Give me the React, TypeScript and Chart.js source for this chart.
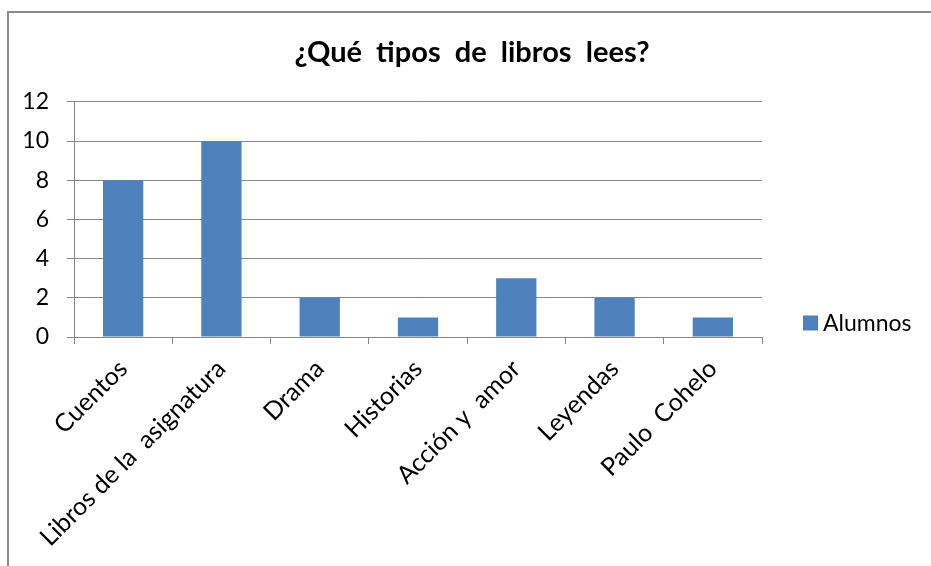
import React, { useEffect, useRef } from "react";
import { Chart, registerables } from "chart.js";

Chart.register(...registerables);

const categories = [
  "Cuentos",
  "Libros de la  asignatura",
  "Drama",
  "Historias",
  "Acción y  amor",
  "Leyendas",
  "Paulo  Cohelo",
];
const alumnos = [8, 10, 2, 1, 3, 2, 1];
const seriesName = "Alumnos";
const titleText = "¿Qué  tipos  de  libros  lees?";

const FONT = "Lato, 'Open Sans', sans-serif";
const BAR = "#4F81BD";
const GRID = "#868686";

const legendPlugin = {
  id: "customLegend",
  afterDraw(chart: any) {
    const { ctx, chartArea } = chart;
    const bx = chartArea.right + 41;
    const cy = chartArea.bottom - 14;
    ctx.save();
    ctx.fillStyle = BAR;
    ctx.fillRect(bx, cy - 7.5, 15, 15);
    ctx.fillStyle = "#000";
    ctx.font = `23px ${FONT}`;
    ctx.textBaseline = "middle";
    ctx.textAlign = "left";
    ctx.fillText(seriesName, bx + 20, cy + 1);
    ctx.restore();
  },
};

export default function App() {
  const ref = useRef<HTMLCanvasElement>(null);
  useEffect(() => {
    document.body.style.overflow = "hidden";
    const chart = new Chart(ref.current!, {
      type: "bar",
      data: {
        labels: categories,
        datasets: [
          {
            label: seriesName,
            data: alumnos,
            backgroundColor: BAR,
            borderWidth: 0,
            barPercentage: 0.41,
            categoryPercentage: 1,
            yAxisID: "y",
          },
        ],
      },
      options: {
        animation: false,
        responsive: false,
        events: [],
        layout: { padding: { left: 13, right: 0, top: 0, bottom: 0 } },
        plugins: {
          legend: { display: false },
          tooltip: { enabled: false },
          title: {
            display: true,
            text: titleText,
            color: "#000",
            font: { family: FONT, size: 29, weight: "bold", lineHeight: 1.2 },
            padding: { top: 35, bottom: 32 },
          },
        },
        scales: {
          x: {
            offset: true,
            grid: {
              offset: true,
              drawOnChartArea: false,
              drawTicks: true,
              tickLength: 7,
              color: GRID,
            },
            border: { display: true, color: GRID, width: 1 },
            ticks: {
              color: "#000",
              font: { family: FONT, size: 25 },
              minRotation: 45,
              maxRotation: 45,
              autoSkip: false,
              padding: 10,
            },
            afterFit(scale: any) {
              scale.height = 229;
            },
          },
          y: {
            min: 0,
            max: 12,
            position: "left",
            ticks: {
              stepSize: 2,
              color: "#000",
              font: { family: FONT, size: 23 },
              padding: 18,
            },
            grid: { color: GRID, tickLength: 7, drawTicks: true },
            border: { display: true, color: GRID, width: 1 },
            afterFit(scale: any) {
              scale.width = 61;
            },
          },
          spacer: {
            type: "linear",
            position: "right",
            display: true,
            min: 0,
            max: 1,
            grid: { display: false, drawTicks: false },
            border: { display: false },
            ticks: { display: false },
            afterFit(scale: any) {
              scale.width = 169;
            },
          },
        },
      },
      plugins: [legendPlugin],
    });
    return () => chart.destroy();
  }, []);

  return (
    <div style={{ position: "fixed", left: 0, top: 0, width: 931, height: 566, overflow: "hidden", background: "#fff" }}>
      <div
        style={{
          position: "absolute",
          left: 7,
          top: 11,
          width: 1200,
          height: 1000,
          border: "2px solid #8c8c8c",
          boxSizing: "border-box",
        }}
      />
      <canvas ref={ref} width={931} height={566} style={{ position: "absolute", left: 0, top: 0, display: "block" }} />
    </div>
  );
}
